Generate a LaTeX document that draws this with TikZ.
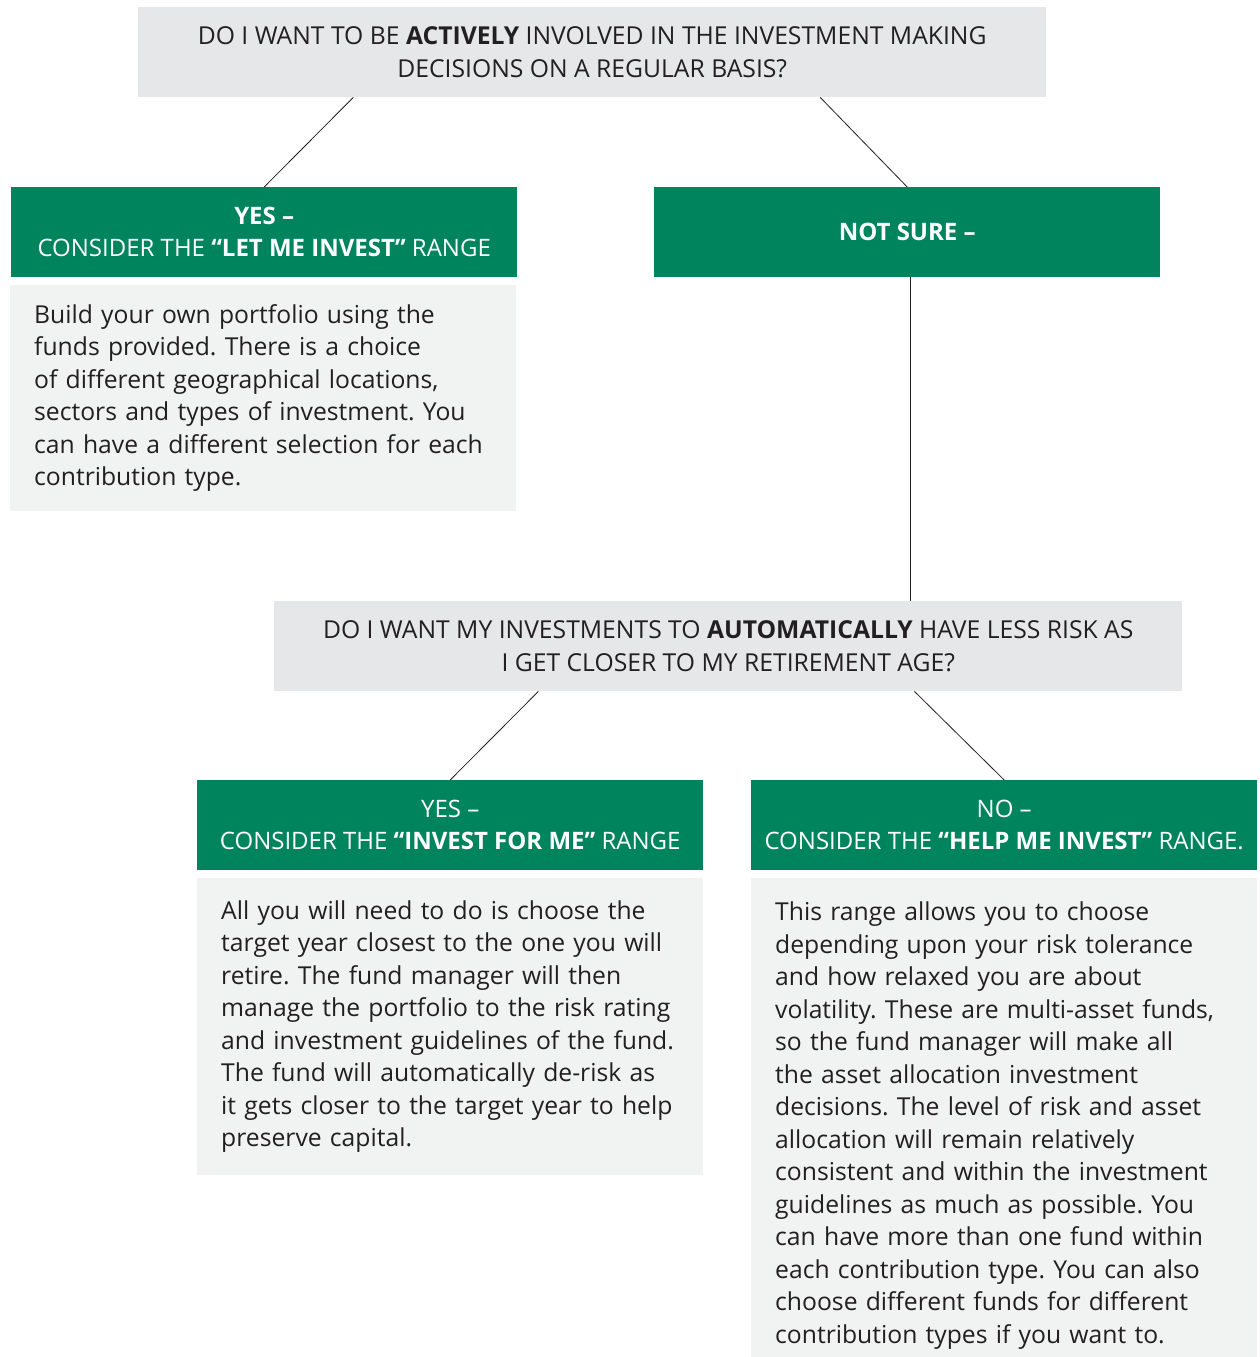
\documentclass[tikz,border=0pt]{standalone}
\usepackage{fontspec}
\setmainfont{Open Sans}
\usetikzlibrary{calc}
\definecolor{qgray}{HTML}{E6E7E8}
\definecolor{okgreen}{HTML}{00845E}
\definecolor{paper}{HTML}{F1F3F2}
\definecolor{ink}{HTML}{231F20}
\tikzset{
  question/.style={fill=qgray, text=ink, minimum width=908pt, minimum height=90pt,
    inner sep=0pt, align=center, font=\fontsize{24.7}{33}\selectfont},
  answer/.style={fill=okgreen, text=white, minimum width=506pt, minimum height=90pt,
    inner sep=0pt, align=center, font=\fontsize{24}{32}\selectfont},
  detail/.style={fill=paper, text=ink, text width=458pt, inner xsep=24pt, inner ysep=0pt,
    align=left, font=\fontsize{24.7}{32.5}\selectfont\frenchspacing},
  link/.style={draw=ink, line width=0.8pt}
}
\begin{document}
\begin{tikzpicture}[x=1pt, y=-1pt]
        \useasboundingbox (0,0) rectangle (1259,1357);

        % First question
        \node[question, anchor=north west] (q1) at (138,7)
            {DO I WANT TO BE \textbf{ACTIVELY} INVOLVED IN THE INVESTMENT MAKING\\DECISIONS ON A REGULAR BASIS?};

        \node[answer, anchor=north west] (yes1) at (11,187)
            {\textbf{YES –}\\CONSIDER THE \textbf{“LET ME INVEST”} RANGE};
        \node[detail, anchor=north west, minimum height=226pt] (d1) at (10,285)
            {Build your own portfolio using the\\funds provided. There is a choice\\of different geographical locations,\\sectors and types of investment. You\\can have a different selection for each\\contribution type.};

        \node[answer, anchor=north west] (unsure) at (654,187) {\textbf{NOT SURE –}};

        % Second question
        \node[question, anchor=north west] (q2) at (274,601)
            {DO I WANT MY INVESTMENTS TO \textbf{AUTOMATICALLY} HAVE LESS RISK AS\\I GET CLOSER TO MY RETIREMENT AGE?};

        \node[answer, anchor=north west] (yes2) at (197,780)
            {YES –\\CONSIDER THE \textbf{“INVEST FOR ME”} RANGE};
        \node[detail, anchor=north west, minimum height=297pt] (d2) at (197,878)
            {All you will need to do is choose the\\target year closest to the one you will\\retire. The fund manager will then\\manage the portfolio to the risk rating\\and investment guidelines of the fund.\\The fund will automatically de-risk as\\it gets closer to the target year to help\\preserve capital.};

        % box runs on past the bottom edge
        \node[answer, anchor=north west] (no2) at (751,780)
            {NO –\\CONSIDER THE \textbf{“HELP ME INVEST”} RANGE.};
        \node[detail, anchor=north west, minimum height=495pt] (d3) at (751,878)
            {This range allows you to choose\\depending upon your risk tolerance\\and how relaxed you are about\\volatility. These are multi-asset funds,\\so the fund manager will make all\\the asset allocation investment\\decisions. The level of risk and asset\\allocation will remain relatively\\consistent and within the investment\\guidelines as much as possible. You\\can have more than one fund within\\each contribution type. You can also\\choose different funds for different\\contribution types if you want to.};

        % Connectors
        \draw[link] ($(q1.south west)!0.237!(q1.south east)$) -- (yes1.north);
        \draw[link] ($(q1.south west)!0.751!(q1.south east)$) -- (unsure.north);
        \draw[link] ($(unsure.south)+(3,0)$) -- ($(unsure.south |- q2.north)+(3,0)$);
        \draw[link] ($(q2.south west)!0.291!(q2.south east)$) -- (yes2.north);
        \draw[link] ($(q2.south west)!0.705!(q2.south east)$) -- (no2.north);
\end{tikzpicture}
\end{document}
